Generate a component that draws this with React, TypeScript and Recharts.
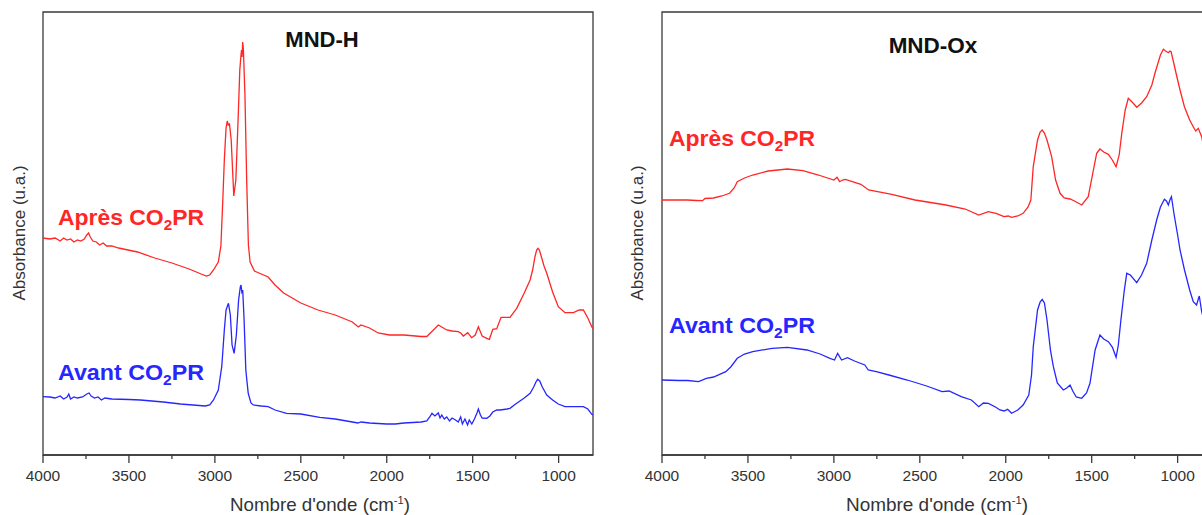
import React from "react";
import { LineChart, Line, XAxis, YAxis, ReferenceArea } from "recharts";

// wavenumbers (cm-1) and absorbance (arbitrary units)
const hApresWave = [4000, 3960, 3930, 3900, 3880, 3860, 3840, 3820, 3800, 3780, 3760, 3745, 3735, 3725, 3710, 3690, 3670, 3650, 3630, 3600, 3560, 3450, 3350, 3250, 3150, 3080, 3050, 3030, 3008, 2980, 2965, 2955, 2945, 2935, 2928, 2922, 2915, 2905, 2890, 2878, 2865, 2855, 2848, 2845, 2842, 2838, 2834, 2825, 2815, 2805, 2795, 2770, 2730, 2690, 2650, 2600, 2500, 2400, 2300, 2200, 2165, 2150, 2100, 2050, 1985, 1900, 1800, 1767, 1740, 1700, 1680, 1651, 1620, 1584, 1570, 1554, 1529, 1506, 1485, 1467, 1445, 1418, 1403, 1383, 1360, 1335, 1283, 1244, 1200, 1166, 1150, 1138, 1128, 1120, 1112, 1100, 1085, 1069, 1035, 1002, 963, 914, 880, 856, 830, 807, 800];
const hApresAbs = [217, 216, 217, 214, 217, 215, 216, 213, 215, 214, 216, 220, 222, 218, 214, 213, 210, 212, 209, 209, 207, 203, 197, 192, 186, 181, 179, 180, 185, 193, 209, 250, 295, 327, 334, 330, 331, 315, 259, 275, 335, 385, 400, 405, 398, 413, 405, 360, 275, 210, 193, 184, 181, 178, 170, 162, 152, 145, 140, 133, 128, 130, 127, 122, 120, 120, 118.5, 118.5, 123, 130, 128, 125, 124, 123.3, 122, 119, 122.3, 117.3, 120, 128.3, 119, 116.7, 115.7, 125.7, 126.3, 137.7, 137.7, 146.7, 162, 175, 186, 198, 205, 206.7, 205, 198, 189, 181.7, 163, 148.3, 142.3, 142.3, 145, 145, 137, 128.3, 126];

const hAvantWave = [4000, 3960, 3930, 3900, 3880, 3860, 3850, 3840, 3820, 3800, 3770, 3745, 3732, 3720, 3700, 3680, 3660, 3640, 3600, 3500, 3433, 3300, 3200, 3056, 3030, 3008, 2980, 2960, 2945, 2935, 2921, 2910, 2900, 2888, 2875, 2862, 2852, 2848, 2843, 2838, 2830, 2820, 2806, 2790, 2776, 2730, 2690, 2650, 2583, 2500, 2390, 2300, 2200, 2168, 2150, 2100, 2050, 2000, 1950, 1900, 1850, 1800, 1767, 1750, 1737, 1720, 1700, 1690, 1680, 1665, 1651, 1635, 1620, 1600, 1584, 1570, 1560, 1545, 1530, 1520, 1505, 1490, 1475, 1467, 1455, 1445, 1418, 1400, 1383, 1360, 1340, 1300, 1283, 1250, 1200, 1166, 1145, 1132, 1122, 1110, 1095, 1069, 1035, 1002, 963, 914, 856, 830, 807, 800];
const hAvantAbs = [58.3, 58, 57, 59, 56, 58, 61, 56, 58, 57, 58, 61, 62, 59, 57, 58, 55, 57, 56, 55.5, 55, 53, 51, 49, 50, 55, 65, 88.3, 125, 145, 151.7, 140, 110, 101.7, 120, 155, 168, 170, 163, 165, 135, 85, 61.7, 52, 50, 49, 48.3, 45, 41.7, 41, 37.7, 36, 33, 32, 33, 32, 31.5, 31, 31, 32, 32.5, 33, 34, 38, 41.7, 39, 42, 37, 40, 36, 38, 34, 37, 35, 33, 38, 31, 36, 30, 35, 31, 36, 42, 46, 40, 37, 36.7, 39, 43, 45, 45, 46, 46.7, 51, 57, 61.7, 68, 73, 75.7, 74, 68, 60, 55, 51, 48.3, 48.3, 48.3, 46, 40.7, 40];

const oxApresWave = [4000, 3900, 3854, 3800, 3764, 3750, 3700, 3652, 3607, 3580, 3562, 3520, 3472, 3382, 3270, 3180, 3090, 3000, 2982, 2966, 2950, 2933, 2843, 2798, 2663, 2528, 2348, 2236, 2157, 2101, 2056, 2011, 1985, 1966, 1930, 1899, 1870, 1854, 1840, 1815, 1800, 1788, 1775, 1760, 1733, 1710, 1684, 1660, 1626, 1600, 1558, 1520, 1490, 1471, 1452, 1430, 1403, 1380, 1358, 1340, 1325, 1305, 1287, 1265, 1238, 1210, 1180, 1150, 1132, 1100, 1083, 1070, 1054, 1045, 1038, 1020, 1000, 986, 960, 930, 909, 895, 880, 860, 840, 820, 800];
const oxApresAbs = [255, 255, 255, 254.5, 254.3, 256.5, 257, 259, 261.7, 267, 273.3, 277, 280, 284, 286, 284.3, 280, 275, 277.7, 273.3, 275, 275.7, 270.7, 265, 260.7, 255, 250, 246, 240, 243.3, 241.7, 238.3, 239, 237.7, 239, 241.7, 248, 255, 288.3, 315, 323, 325, 322, 315, 298.3, 275, 261.7, 257, 256, 254, 250, 258.3, 285, 301.7, 306, 303, 300.7, 295, 288.3, 300, 321.7, 345, 356.7, 353, 347.7, 352, 358.3, 370, 381.7, 400, 405.7, 404, 402.3, 404, 403.3, 390, 375, 365, 348, 335, 328.3, 324, 326.7, 318.3, 300, 290, 285];

const oxAvantWave = [4000, 3900, 3850, 3787, 3742, 3700, 3629, 3600, 3562, 3520, 3472, 3360, 3270, 3157, 3080, 3023, 2996, 2978, 2955, 2921, 2880, 2820, 2800, 2753, 2680, 2573, 2460, 2371, 2330, 2259, 2200, 2157, 2130, 2101, 2060, 2034, 2010, 1989, 1966, 1930, 1899, 1866, 1850, 1840, 1815, 1800, 1788, 1775, 1760, 1740, 1723, 1700, 1665, 1645, 1626, 1610, 1590, 1558, 1530, 1510, 1480, 1452, 1430, 1403, 1380, 1358, 1345, 1330, 1310, 1296, 1275, 1238, 1210, 1180, 1150, 1122, 1100, 1077, 1065, 1054, 1045, 1036, 1020, 1000, 986, 960, 930, 909, 890, 874, 860, 840, 820, 800];
const oxAvantAbs = [75, 74.5, 74.5, 73.3, 76.7, 78, 83.3, 88, 96.7, 101, 103.3, 106.7, 107.7, 105, 101, 96.7, 95, 101.7, 95, 97.3, 94, 90, 85, 83.3, 80, 75, 69, 63.3, 64, 58.3, 55, 48.3, 52, 51.7, 48, 45, 44, 45.7, 41.7, 45, 50, 60, 80, 108.3, 145, 153, 155.7, 152, 135, 105, 88.3, 72, 65, 67, 70, 64, 58, 56.7, 62, 71.7, 105, 120, 116, 113.3, 108, 97.7, 110, 135, 165, 181.7, 180, 172.3, 180, 191.7, 215, 235, 248, 255.7, 254, 250, 255, 258.3, 240, 220, 205, 185, 165, 153.3, 150, 159, 143.3, 130, 125, 120];

const waveTicks = [4000, 3750, 3500, 3250, 3000, 2750, 2500, 2250, 2000, 1750, 1500, 1250, 1000];

const RED = "#ff2626";
const BLUE = "#2626ff";
const AXIS = "#3a3a3a";
const FONT = "'Liberation Sans', Arial, sans-serif";

const toPoints = (wave: number[], abs: number[]) =>
  wave.map((w, i) => ({ w, a: abs[i] }));

const WaveTick = (props: any) => {
  const { x, y, payload } = props;
  const major = payload.value % 500 === 0;
  return (
    <g>
      <line x1={x} y1={y} x2={x} y2={y + (major ? 8 : 4)} stroke={AXIS} strokeWidth={1.3} />
      {major && (
        <text x={x} y={y + 15} dy="0.71em" textAnchor="middle" fontSize={15.5} fill="#333" fontFamily={FONT}>
          {payload.value}
        </text>
      )}
    </g>
  );
};

function Spectrum({ apres, avant, left, marginLeft }: { apres: any[]; avant: any[]; left: number; marginLeft: number }) {
  return (
    <div style={{ position: "absolute", left, top: 0 }}>
      <LineChart width={620} height={515} margin={{ top: 12, right: 620 - marginLeft - 550, bottom: 0, left: marginLeft }}>
        <XAxis
          type="number"
          dataKey="w"
          domain={[800, 4000]}
          reversed
          allowDataOverflow
          ticks={waveTicks}
          interval={0}
          height={60}
          tickSize={0}
          tickMargin={0}
          tickLine={false}
          axisLine={{ stroke: AXIS, strokeWidth: 1.3 }}
          tick={<WaveTick />}
        />
        <YAxis type="number" domain={[0, 443]} hide />
        <ReferenceArea x1={800} x2={4000} y1={0} y2={443} fill="none" stroke={AXIS} strokeWidth={1.3} />
        <Line data={apres} dataKey="a" type="linear" stroke={RED} strokeWidth={1.3} dot={false} isAnimationActive={false} />
        <Line data={avant} dataKey="a" type="linear" stroke={BLUE} strokeWidth={1.3} dot={false} isAnimationActive={false} />
      </LineChart>
    </div>
  );
}

const SampleLabel = ({ x, y, text, color }: { x: number; y: number; text: string; color: string }) => (
  <text x={x} y={y} fill={color} fontSize={22.5} fontWeight="bold" fontFamily={FONT} textLength={146} lengthAdjust="spacingAndGlyphs">
    {text} CO<tspan fontSize={15} dy={5}>2</tspan>
    <tspan dy={-5}>PR</tspan>
  </text>
);

export default function App() {
  return (
    <div style={{ position: "fixed", left: 0, top: 0, width: 1202, height: 515, overflow: "hidden", background: "#fff", fontFamily: FONT }}>
      <Spectrum apres={toPoints(hApresWave, hApresAbs)} avant={toPoints(hAvantWave, hAvantAbs)} left={0} marginLeft={43} />
      <Spectrum apres={toPoints(oxApresWave, oxApresAbs)} avant={toPoints(oxAvantWave, oxAvantAbs)} left={620} marginLeft={42} />
      <svg width={1202} height={515} style={{ position: "absolute", left: 0, top: 0, pointerEvents: "none" }}>
        <text x={322} y={46.5} textAnchor="middle" fontSize={22} fontWeight="bold" fill="#111" fontFamily={FONT}>MND-H</text>
        <text x={933} y={52.5} textAnchor="middle" fontSize={22.5} fontWeight="bold" fill="#111" fontFamily={FONT}>MND-Ox</text>

        <SampleLabel x={58} y={225} text="Après" color={RED} />
        <SampleLabel x={58} y={380} text="Avant" color={BLUE} />
        <SampleLabel x={669} y={146} text="Après" color={RED} />
        <SampleLabel x={669} y={332.5} text="Avant" color={BLUE} />

        <text transform="translate(24.5,233) rotate(-90)" textAnchor="middle" fontSize={17} fill="#333" fontFamily={FONT}>Absorbance (u.a.)</text>
        <text transform="translate(643,233) rotate(-90)" textAnchor="middle" fontSize={17} fill="#333" fontFamily={FONT}>Absorbance (u.a.)</text>

        <text x={320} y={510.5} textAnchor="middle" fontSize={18.5} fill="#333" fontFamily={FONT} textLength={180} lengthAdjust="spacingAndGlyphs">
          Nombre d'onde (cm<tspan fontSize={11} dy={-7}>-1</tspan><tspan dy={7}>)</tspan>
        </text>
        <text x={937} y={510.5} textAnchor="middle" fontSize={18.5} fill="#333" fontFamily={FONT} textLength={182} lengthAdjust="spacingAndGlyphs">
          Nombre d'onde (cm<tspan fontSize={11} dy={-7}>-1</tspan><tspan dy={7}>)</tspan>
        </text>
      </svg>
    </div>
  );
}
